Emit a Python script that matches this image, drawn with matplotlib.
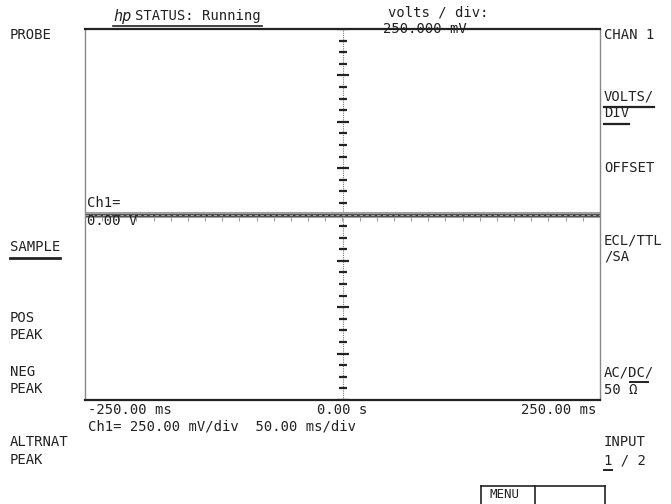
import numpy as np
import matplotlib
matplotlib.use("Agg")
import matplotlib.pyplot as plt

# scope settings
time_ms = [-250.0, 250.0]
ch1_volts = [0.0, 0.0]
volts_per_div = 0.25
ms_per_div = 50.0
x_labels = ["-250.00 ms", "0.00 s", "250.00 ms"]

left_menu = [("PROBE", 35, False), ("SAMPLE", 247, True), ("POS", 318, False), ("PEAK", 335, False),
             ("NEG", 372, False), ("PEAK", 389, False), ("ALTRNAT", 442, False), ("PEAK", 460, False)]
right_menu = [("CHAN 1", 35, False), ("VOLTS/", 96, True), ("DIV", 113, True), ("OFFSET", 168, False),
              ("ECL/TTL", 240, False), ("/SA", 257, False), ("AC/DC/", 372, False), ("50 Ω", 390, False),
              ("INPUT", 442, False), ("1 / 2", 460, False)]

W, H = 671, 504
INK = "#222222"
plt.rcParams['font.family'] = ['DejaVu Sans Mono']
FS = 10

fig = plt.figure(figsize=(W / 100, H / 100), dpi=100)


def px(x, y):
    return x / W, 1 - y / H


def label(x, y, s, ha="left", size=FS, **kw):
    fx, fy = px(x, y)
    fig.text(fx, fy, s, ha=ha, va="center", fontsize=size, color=INK, **kw)


def hline(x0, x1, y, lw=1.4):
    a = px(x0, y)
    c = px(x1, y)
    fig.add_artist(plt.Line2D([a[0], c[0]], [a[1], a[1]], color=INK, lw=lw))


l, b = px(85, 400)
r, t = px(600, 29)
ax = fig.add_axes([l, b, r - l, t - b])
ax.set_xlim(-5 * ms_per_div, 5 * ms_per_div)
ax.set_ylim(-4 * volts_per_div, 4 * volts_per_div)
ax.set_xticks([])
ax.set_yticks([])
for s in ("top", "bottom"):
    ax.spines[s].set_color(INK)
    ax.spines[s].set_linewidth(1.6)
for s in ("left", "right"):
    ax.spines[s].set_color("#888888")
    ax.spines[s].set_linestyle((0, (1, 1)))
    ax.spines[s].set_linewidth(1.0)

# center axes with graticule ticks
ax.axvline(0, color="#777777", lw=0.8, ls=(0, (1, 1)))
ax.axhline(0, color="#777777", lw=0.8, ls=(0, (1, 1)))
yt = np.arange(-4, 4.001, 0.25) * volts_per_div
major = np.isclose(yt / volts_per_div, np.round(yt / volts_per_div))
ax.plot(np.zeros(major.sum()), yt[major], ls="none", marker="_", ms=9, mew=1.6, color=INK)
ax.plot(np.zeros((~major).sum()), yt[~major], ls="none", marker="_", ms=6, mew=1.6, color=INK)
xt = np.arange(-5, 5.001, 1 / 3) * ms_per_div
ax.plot(xt, np.full_like(xt, -0.022), ls="none", marker="|", ms=3, mew=0.7, color="#999999")

# trace
ax.plot(time_ms, ch1_volts, color="#a0a0a0", lw=4.4, solid_capstyle="butt")
ax.plot(time_ms, ch1_volts, color="#3a3a3a", lw=1.8, solid_capstyle="butt")
ax.plot(time_ms, ch1_volts, color="#bbbbbb", lw=0.6, ls=(0, (4, 3)))

# header
label(113, 16, "hp", style="italic", size=FS + 1)
label(135, 16, "STATUS: Running")
hline(113, 262, 26, lw=1.2)
label(388, 13, "volts / div:")
label(383, 29, "250.000 mV")

# readouts on screen
label(87, 203, "Ch1=")
label(87, 221, "0.00 V")
label(88, 410, x_labels[0])
label(342, 410, x_labels[1], ha="center")
label(596, 410, x_labels[2], ha="right")
label(88, 426, "Ch1= %.2f mV/div  %.2f ms/div" % (volts_per_div * 1000, ms_per_div))

# softkey labels
for txt, y, ul in left_menu:
    label(10, y, txt)
    if ul:
        hline(10, 10 + 8.4 * len(txt), y + 11, lw=2.0)
for txt, y, ul in right_menu:
    label(604, y, txt)
    if ul:
        hline(604, 604 + 8.4 * len(txt), y + 11, lw=1.6)
# partial underlines: DC and 1
hline(630, 648, 382)
hline(604, 612, 470)

# MENU box
for seg in [((481, 486), (605, 486)), ((481, 486), (481, 504)), ((535, 486), (535, 504)),
            ((605, 486), (605, 504))]:
    a = px(*seg[0])
    c = px(*seg[1])
    fig.add_artist(plt.Line2D([a[0], c[0]], [a[1], c[1]], color=INK, lw=1.2))
label(490, 495, "MENU", size=FS - 1)

fig.savefig("out.png", dpi=100, facecolor="white")
